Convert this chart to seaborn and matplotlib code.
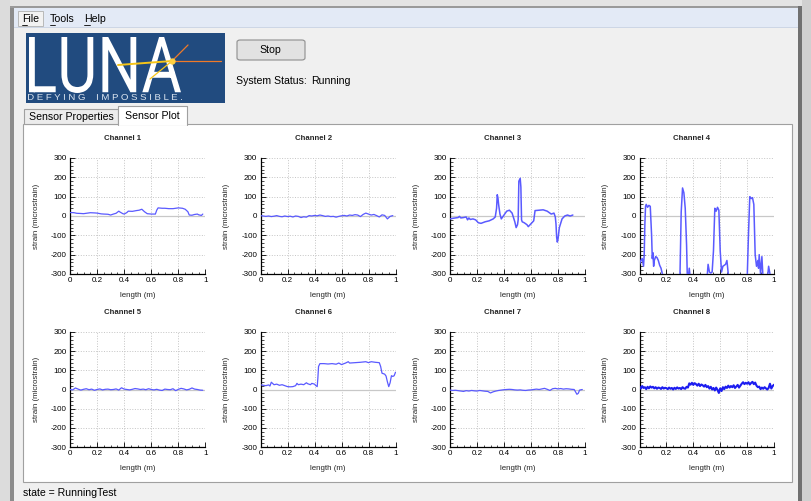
import numpy as np
import pandas as pd
import matplotlib
matplotlib.use("Agg")
import matplotlib.pyplot as plt
import matplotlib.transforms as mtransforms
from matplotlib.patches import Rectangle, FancyBboxPatch, PathPatch
from matplotlib.lines import Line2D
from matplotlib.textpath import TextPath
from matplotlib.font_manager import FontProperties
from matplotlib.ticker import MultipleLocator, FixedLocator
import seaborn as sns

# ---------------- data ----------------
ch1_x = [0.00, 0.03, 0.05, 0.08, 0.10, 0.13, 0.15, 0.18, 0.20, 0.23, 0.25, 0.28, 0.30, 0.32,
         0.34, 0.36, 0.37, 0.39, 0.40, 0.42, 0.43, 0.46, 0.49, 0.51, 0.53, 0.55, 0.57, 0.60,
         0.63, 0.64, 0.65, 0.68, 0.70, 0.73, 0.76, 0.78, 0.80, 0.83, 0.85, 0.87, 0.88, 0.90,
         0.92, 0.94, 0.95, 0.97, 0.98]
ch1_y = [18, 17, 14, 13, 12, 15, 17, 16, 15, 11, 10, 9, 5, 10,
         14, 25, 20, 12, 10, 18, 25, 24, 28, 30, 35, 22, 12, 10,
         10, 30, 42, 40, 40, 38, 38, 40, 42, 40, 35, 22, 5, 4,
         8, 10, 6, 3, 10]

ch2_x = [0.00, 0.02, 0.04, 0.06, 0.08, 0.10, 0.12, 0.14, 0.16, 0.18, 0.20, 0.22, 0.24, 0.26,
         0.28, 0.30, 0.32, 0.34, 0.36, 0.38, 0.40, 0.42, 0.44, 0.46, 0.48, 0.50, 0.52, 0.54,
         0.56, 0.58, 0.60, 0.62, 0.64, 0.66, 0.68, 0.70, 0.72, 0.74, 0.76, 0.78, 0.80, 0.82,
         0.84, 0.86, 0.88, 0.90, 0.92, 0.94, 0.96, 0.98]
ch2_y = [2, 0, -2, 0, -3, -1, 2, -2, -4, 0, -3, -1, -5, 0,
         -2, -8, -4, -6, 2, 0, 3, 1, 5, 2, -2, 0, -3, -2,
         -6, -2, 1, 3, 0, 5, 3, 7, 5, -3, 8, 15, 10, 5,
         8, 2, -5, 6, 3, -15, -2, 2]

ch3_x = [0.00, 0.02, 0.04, 0.06, 0.07, 0.08, 0.10, 0.12, 0.13, 0.14, 0.15, 0.17, 0.19, 0.21,
         0.23, 0.26, 0.29, 0.32, 0.335, 0.345, 0.35, 0.355, 0.36, 0.37, 0.38, 0.40, 0.42, 0.44,
         0.46, 0.48, 0.49, 0.50, 0.505, 0.51, 0.52, 0.525, 0.53, 0.535, 0.55, 0.57, 0.58, 0.60,
         0.62, 0.63, 0.66, 0.69, 0.72, 0.75, 0.77, 0.78, 0.785, 0.79, 0.795, 0.80, 0.81, 0.83,
         0.85, 0.87, 0.89, 0.91]
ch3_y = [-15, -12, -10, -8, -2, -10, -8, -5, -20, -10, -18, -15, -20, -35,
         -38, -30, -25, -15, -5, 40, 110, 95, 60, 10, -15, 5, 25, 30,
         15, -30, -60, -45, -20, 180, 195, 150, -20, -30, -35, -45, -55, -40,
         -25, 28, 30, 32, 25, 10, 15, -5, -40, -110, -135, -120, -60, -15,
         0, 5, 0, 5]

ch4_x = [0.00, 0.01, 0.02, 0.03, 0.035, 0.04, 0.045, 0.05, 0.06, 0.07, 0.08, 0.09, 0.095, 0.10,
         0.105, 0.11, 0.12, 0.13, 0.14, 0.15, 0.16, 0.17, 0.18, 0.30, 0.31, 0.32, 0.33, 0.34,
         0.35, 0.355, 0.36, 0.37, 0.38, 0.50, 0.51, 0.52, 0.53, 0.54, 0.55, 0.56, 0.57, 0.58,
         0.59, 0.60, 0.61, 0.62, 0.64, 0.65, 0.66, 0.67, 0.80, 0.81, 0.82, 0.83, 0.84, 0.85,
         0.86, 0.87, 0.88, 0.885, 0.89, 0.90, 0.91, 0.92, 0.95, 0.96, 0.97]
ch4_y = [-250, -230, -220, -260, -200, -40, 50, 60, 45, 55, 50, -100, -220, -190,
         -260, -230, -210, -215, -230, -255, -270, -300, -340, -340, 20, 145, 120, 40,
         -150, -300, -340, -270, -340, -340, -250, -290, -295, -290, -180, 40, 25, 45,
         30, -180, -290, -260, -250, -230, -300, -340, -340, -100, 100, 90, 95, 60,
         -200, -260, -230, -270, -200, -300, -210, -340, -330, -260, -300]

ch5_x = [0.00, 0.02, 0.04, 0.06, 0.08, 0.10, 0.12, 0.14, 0.16, 0.18, 0.20, 0.22, 0.24, 0.26,
         0.28, 0.30, 0.32, 0.34, 0.36, 0.38, 0.40, 0.42, 0.44, 0.46, 0.48, 0.50, 0.52, 0.54,
         0.56, 0.58, 0.60, 0.62, 0.64, 0.66, 0.68, 0.70, 0.72, 0.74, 0.76, 0.78, 0.80, 0.82,
         0.84, 0.86, 0.88, 0.90, 0.92, 0.94, 0.96, 0.98]
ch5_y = [0, -2, 8, 2, -3, 1, 4, -1, 2, -4, 0, 3, -2, 1,
         2, -1, 0, 3, -3, 9, 2, 0, -2, 1, 5, 3, 0, 2,
         -1, 4, 0, -2, 1, -3, -5, 2, 0, -1, 4, -6, 1, 6,
         3, -2, 1, 8, 2, 0, -3, -4]

ch6_x = [0.00, 0.02, 0.04, 0.06, 0.07, 0.08, 0.10, 0.12, 0.14, 0.16, 0.18, 0.20, 0.22, 0.24,
         0.26, 0.27, 0.28, 0.30, 0.32, 0.34, 0.35, 0.37, 0.38, 0.40, 0.41, 0.42, 0.425, 0.43,
         0.44, 0.47, 0.50, 0.53, 0.56, 0.58, 0.60, 0.63, 0.65, 0.66, 0.70, 0.74, 0.78, 0.80,
         0.82, 0.85, 0.88, 0.89, 0.90, 0.92, 0.93, 0.94, 0.95, 0.96, 0.97, 0.98, 0.99, 1.00]
ch6_y = [25, 22, 20, 24, 18, 38, 25, 28, 22, 25, 20, 15, 14, 15,
         20, 32, 25, 28, 25, 35, 30, 25, 32, 28, 20, 15, 60, 120,
         135, 135, 133, 135, 132, 138, 130, 138, 145, 138, 140, 142, 145, 140,
         145, 142, 140, 120, 85, 80, 70, 40, 15, 35, 72, 68, 72, 90]

ch7_x = [0.00, 0.02, 0.04, 0.06, 0.08, 0.10, 0.12, 0.14, 0.16, 0.18, 0.20, 0.22, 0.24, 0.26,
         0.28, 0.30, 0.32, 0.34, 0.36, 0.38, 0.40, 0.42, 0.44, 0.46, 0.48, 0.50, 0.52, 0.54,
         0.56, 0.58, 0.60, 0.62, 0.64, 0.66, 0.68, 0.70, 0.72, 0.74, 0.76, 0.78, 0.80, 0.82,
         0.84, 0.86, 0.88, 0.90, 0.92, 0.94, 0.95, 0.96, 0.98]
ch7_y = [-3, -5, -4, -6, -8, -10, -6, -8, -5, -7, -8, -5, -7, -9,
         -10, -18, -12, -8, -5, -3, -1, 0, 1, 0, -2, -3, -2, -4,
         -5, -3, -2, 0, 2, 0, 3, 6, 1, -5, 4, 6, 3, 5,
         2, 4, 3, 1, 0, -25, -20, -3, 0]

ch8_x = [0.00, 0.01, 0.02, 0.03, 0.04, 0.05, 0.06, 0.07, 0.08, 0.09,
         0.10, 0.11, 0.12, 0.13, 0.14, 0.15, 0.16, 0.17, 0.18, 0.19,
         0.20, 0.21, 0.22, 0.23, 0.24, 0.25, 0.26, 0.27, 0.28, 0.29,
         0.30, 0.31, 0.32, 0.33, 0.34, 0.35, 0.36, 0.37, 0.38, 0.39,
         0.40, 0.41, 0.42, 0.43, 0.44, 0.45, 0.46, 0.47, 0.48, 0.49,
         0.50, 0.51, 0.52, 0.53, 0.54, 0.55, 0.56, 0.57, 0.58, 0.59,
         0.60, 0.61, 0.62, 0.63, 0.64, 0.65, 0.66, 0.67, 0.68, 0.69,
         0.70, 0.71, 0.72, 0.73, 0.74, 0.75, 0.76, 0.77, 0.78, 0.79,
         0.80, 0.81, 0.82, 0.83, 0.84, 0.85, 0.86, 0.87, 0.88, 0.89,
         0.90, 0.91, 0.92, 0.93, 0.94, 0.95, 0.96, 0.97, 0.98, 0.99, 1.00]
ch8_y = [15, 5, 18, 8, 12, 2, 14, 6, 16, 10,
         14, 6, 12, 4, 10, 8, 3, 12, 5, 9,
         7, 2, 10, 4, 8, 0, 9, 3, 11, 5,
         8, 2, 12, 6, 4, 14, 10, 32, 25, 35,
         24, 33, 28, 20, 30, 18, 26, 22, 15, 24,
         12, 18, 5, 14, 0, 8, -5, 10, -2, -18,
         6, -8, 12, 2, 15, 8, 20, 10, 18, 12,
         22, 8, 16, 24, 10, 20, 30, 38, 28, 35,
         30, 38, 26, 34, 40, 28, 36, 20, 12, 15,
         2, 10, 4, 12, 6, 0, 8, 30, 5, 18, 25]

channels = ["Channel 1", "Channel 2", "Channel 3", "Channel 4",
            "Channel 5", "Channel 6", "Channel 7", "Channel 8"]
series_x = [ch1_x, ch2_x, ch3_x, ch4_x, ch5_x, ch6_x, ch7_x, ch8_x]
series_y = [ch1_y, ch2_y, ch3_y, ch4_y, ch5_y, ch6_y, ch7_y, ch8_y]
x_ticks = [0, 0.2, 0.4, 0.6, 0.8, 1]
x_tick_labels = ["0", "0.2", "0.4", "0.6", "0.8", "1"]
y_ticks = [-300, -200, -100, 0, 100, 200, 300]
y_tick_labels = ["-300", "-200", "-100", "0", "100", "200", "300"]

# ---------------- figure ----------------
sns.set_style("white")
plt.rcParams["font.family"] = ["Liberation Sans", "DejaVu Sans"]
plt.rcParams["axes.unicode_minus"] = False

W, H = 811, 501
fig = plt.figure(figsize=(W / 100, H / 100), dpi=100, facecolor="#f0f0f0")
GUI_Z = -5


def rect(x0, y0, x1, y1, **kw):
    kw.setdefault("zorder", GUI_Z)
    fig.add_artist(Rectangle((x0 / W, 1 - y1 / H), (x1 - x0) / W, (y1 - y0) / H,
                             transform=fig.transFigure, **kw))


def text(x, y, s, **kw):
    kw.setdefault("fontsize", 7.6)
    kw.setdefault("va", "center")
    kw.setdefault("color", "#000000")
    fig.text(x / W, 1 - y / H, s, **kw)


def line(xs, ys, **kw):
    kw.setdefault("zorder", GUI_Z + 1)
    fig.add_artist(Line2D([v / W for v in xs], [1 - v / H for v in ys],
                          transform=fig.transFigure, **kw))


def fit_text(s, box, color, family="Liberation Sans", weight="normal"):
    x0, y0, x1, y1 = box
    tp = TextPath((0, 0), s, size=10, prop=FontProperties(family=family, weight=weight))
    ext = tp.get_extents()
    sx = (x1 - x0) / ext.width
    sy = (y1 - y0) / ext.height
    tr = (mtransforms.Affine2D().translate(-ext.x0, -ext.y0).scale(sx / W, sy / H)
          .translate(x0 / W, 1 - y1 / H) + fig.transFigure)
    fig.add_artist(PathPatch(tp, transform=tr, fc=color, ec="none", zorder=GUI_Z + 1))


# window frame
rect(0, 0, 811, 7, fc="#e4e4e4", ec="none")
rect(0, 0, 10, 501, fc="#dcdcdc", ec="none")
rect(10, 6, 14, 501, fc="#8c8c8c", ec="none")
rect(10, 6, 801, 8, fc="#9a9a9a", ec="none")
rect(798, 6, 802, 501, fc="#707070", ec="none")
rect(802, 0, 811, 501, fc="#d0d0d0", ec="none")

# menu bar
rect(14, 8, 798, 28, fc="#e3eaf6", ec="none")
rect(14, 27, 798, 28, fc="#cdd6e5", ec="none")
rect(18, 11, 43, 26, fc="#f2f2f2", ec="#b0b0b0", lw=0.6)
text(22, 19, "File")
text(50, 19, "Tools")
text(84, 19, "Help")
line([22, 27], [25, 25], color="#000000", lw=0.6)
line([50, 55], [25, 25], color="#000000", lw=0.6)
line([84, 90], [25, 25], color="#000000", lw=0.6)

# logo
rect(26, 33, 225, 103, fc="#214b7f", ec="none")
fit_text("LUNA", (29, 37, 181, 93), "#ffffff", family="Roboto", weight="normal")
fit_text("D E F Y I N G    I M P O S S I B L E .", (28, 94, 182, 100), "#dfe8f2")
line([118, 172], [65, 61], color="#f5c518", lw=1.4)
line([150, 172], [79, 61], color="#f5c518", lw=0.9)
line([172, 221], [61, 61], color="#f07a28", lw=0.9)
line([172, 188], [61, 45], color="#f07a28", lw=0.9)
fig.add_artist(Line2D([172 / W], [1 - 61 / H], marker="o", ms=3.5, color="#ffd040",
                      transform=fig.transFigure, zorder=GUI_Z + 2))

# stop button / status
fig.add_artist(FancyBboxPatch((237 / W, 1 - 60 / H), 68 / W, 20 / H,
                              boxstyle="round,pad=0,rounding_size=0.004",
                              transform=fig.transFigure, fc="#e2e2e2", ec="#8e8e8e", lw=0.8,
                              zorder=GUI_Z))
text(270.5, 50, "Stop", ha="center")
text(236, 81, "System Status:")
text(311, 81, "Running")

# panel and tabs
rect(23, 124, 792, 482, fc="#ffffff", ec="#a0a0a0", lw=0.8)
rect(24, 109, 118, 124, fc="#ececec", ec="#a0a0a0", lw=0.8)
text(71, 117, "Sensor Properties", ha="center")
rect(118, 106, 187, 125, fc="#ffffff", ec="none", zorder=GUI_Z + 1)
line([118, 118, 187, 187], [124.5, 106, 106, 124.5], color="#a0a0a0", lw=0.8)
text(152.5, 116, "Sensor Plot", ha="center")

# status bar text
text(23, 493, "state = RunningTest")

# ---------------- plots ----------------
cols = [(70, 205.5), (260.5, 395.5), (450, 585), (639.5, 774)]
rows = [(158, 274), (332, 447)]
line_colors = ["#5a5aff"] * 7 + ["#1c1cf0"]
line_widths = [0.9, 0.9, 1.1, 1.1, 0.9, 0.9, 0.9, 1.5]

for i, name in enumerate(channels):
    r, c = divmod(i, 4)
    x0, x1 = cols[c]
    y0, y1 = rows[r]
    ax = fig.add_axes([x0 / W, 1 - y1 / H, (x1 - x0) / W, (y1 - y0) / H])
    ax.set_zorder(10)
    ax.set_facecolor("#ffffff")
    df = pd.DataFrame({"length": series_x[i], "strain": series_y[i]})
    ax.axhline(0, color="#c8c8c8", lw=0.9, zorder=1)
    sns.lineplot(data=df, x="length", y="strain", ax=ax, color=line_colors[i],
                 linewidth=line_widths[i], sort=False, estimator=None, zorder=3)
    ax.set_xlim(0, 1)
    ax.set_ylim(-300, 300)
    ax.xaxis.set_major_locator(FixedLocator(x_ticks))
    ax.set_xticklabels(x_tick_labels)
    ax.yaxis.set_major_locator(FixedLocator(y_ticks))
    ax.set_yticklabels(y_tick_labels)
    ax.xaxis.set_minor_locator(MultipleLocator(0.05))
    ax.yaxis.set_minor_locator(MultipleLocator(20))
    ax.tick_params(axis="both", which="both", direction="in", bottom=True, left=True,
                   top=False, right=False, colors="#000000", labelsize=5.8, pad=2.5)
    ax.tick_params(which="major", length=3.5, width=0.6)
    ax.tick_params(which="minor", length=1.8, width=0.5)
    ax.grid(True, which="major", linestyle=":", color="#c4c4c4", lw=0.7)
    ax.set_axisbelow(True)
    for s in ("top", "right"):
        ax.spines[s].set_visible(False)
    for s in ("left", "bottom"):
        ax.spines[s].set_color("#000000")
        ax.spines[s].set_linewidth(0.9)
    ax.set_xlabel("length (m)", fontsize=5.7)
    ax.set_ylabel("strain (microstrain)", fontsize=5.7)
    ax.xaxis.set_label_coords(0.5, -0.155)
    ax.yaxis.set_label_coords(-0.225, 0.5)
    ax.text(0.39, 1.17, name, transform=ax.transAxes, ha="center", va="center",
            fontsize=5.6, fontweight="bold")

fig.savefig("out.png", dpi=100, facecolor=fig.get_facecolor())
